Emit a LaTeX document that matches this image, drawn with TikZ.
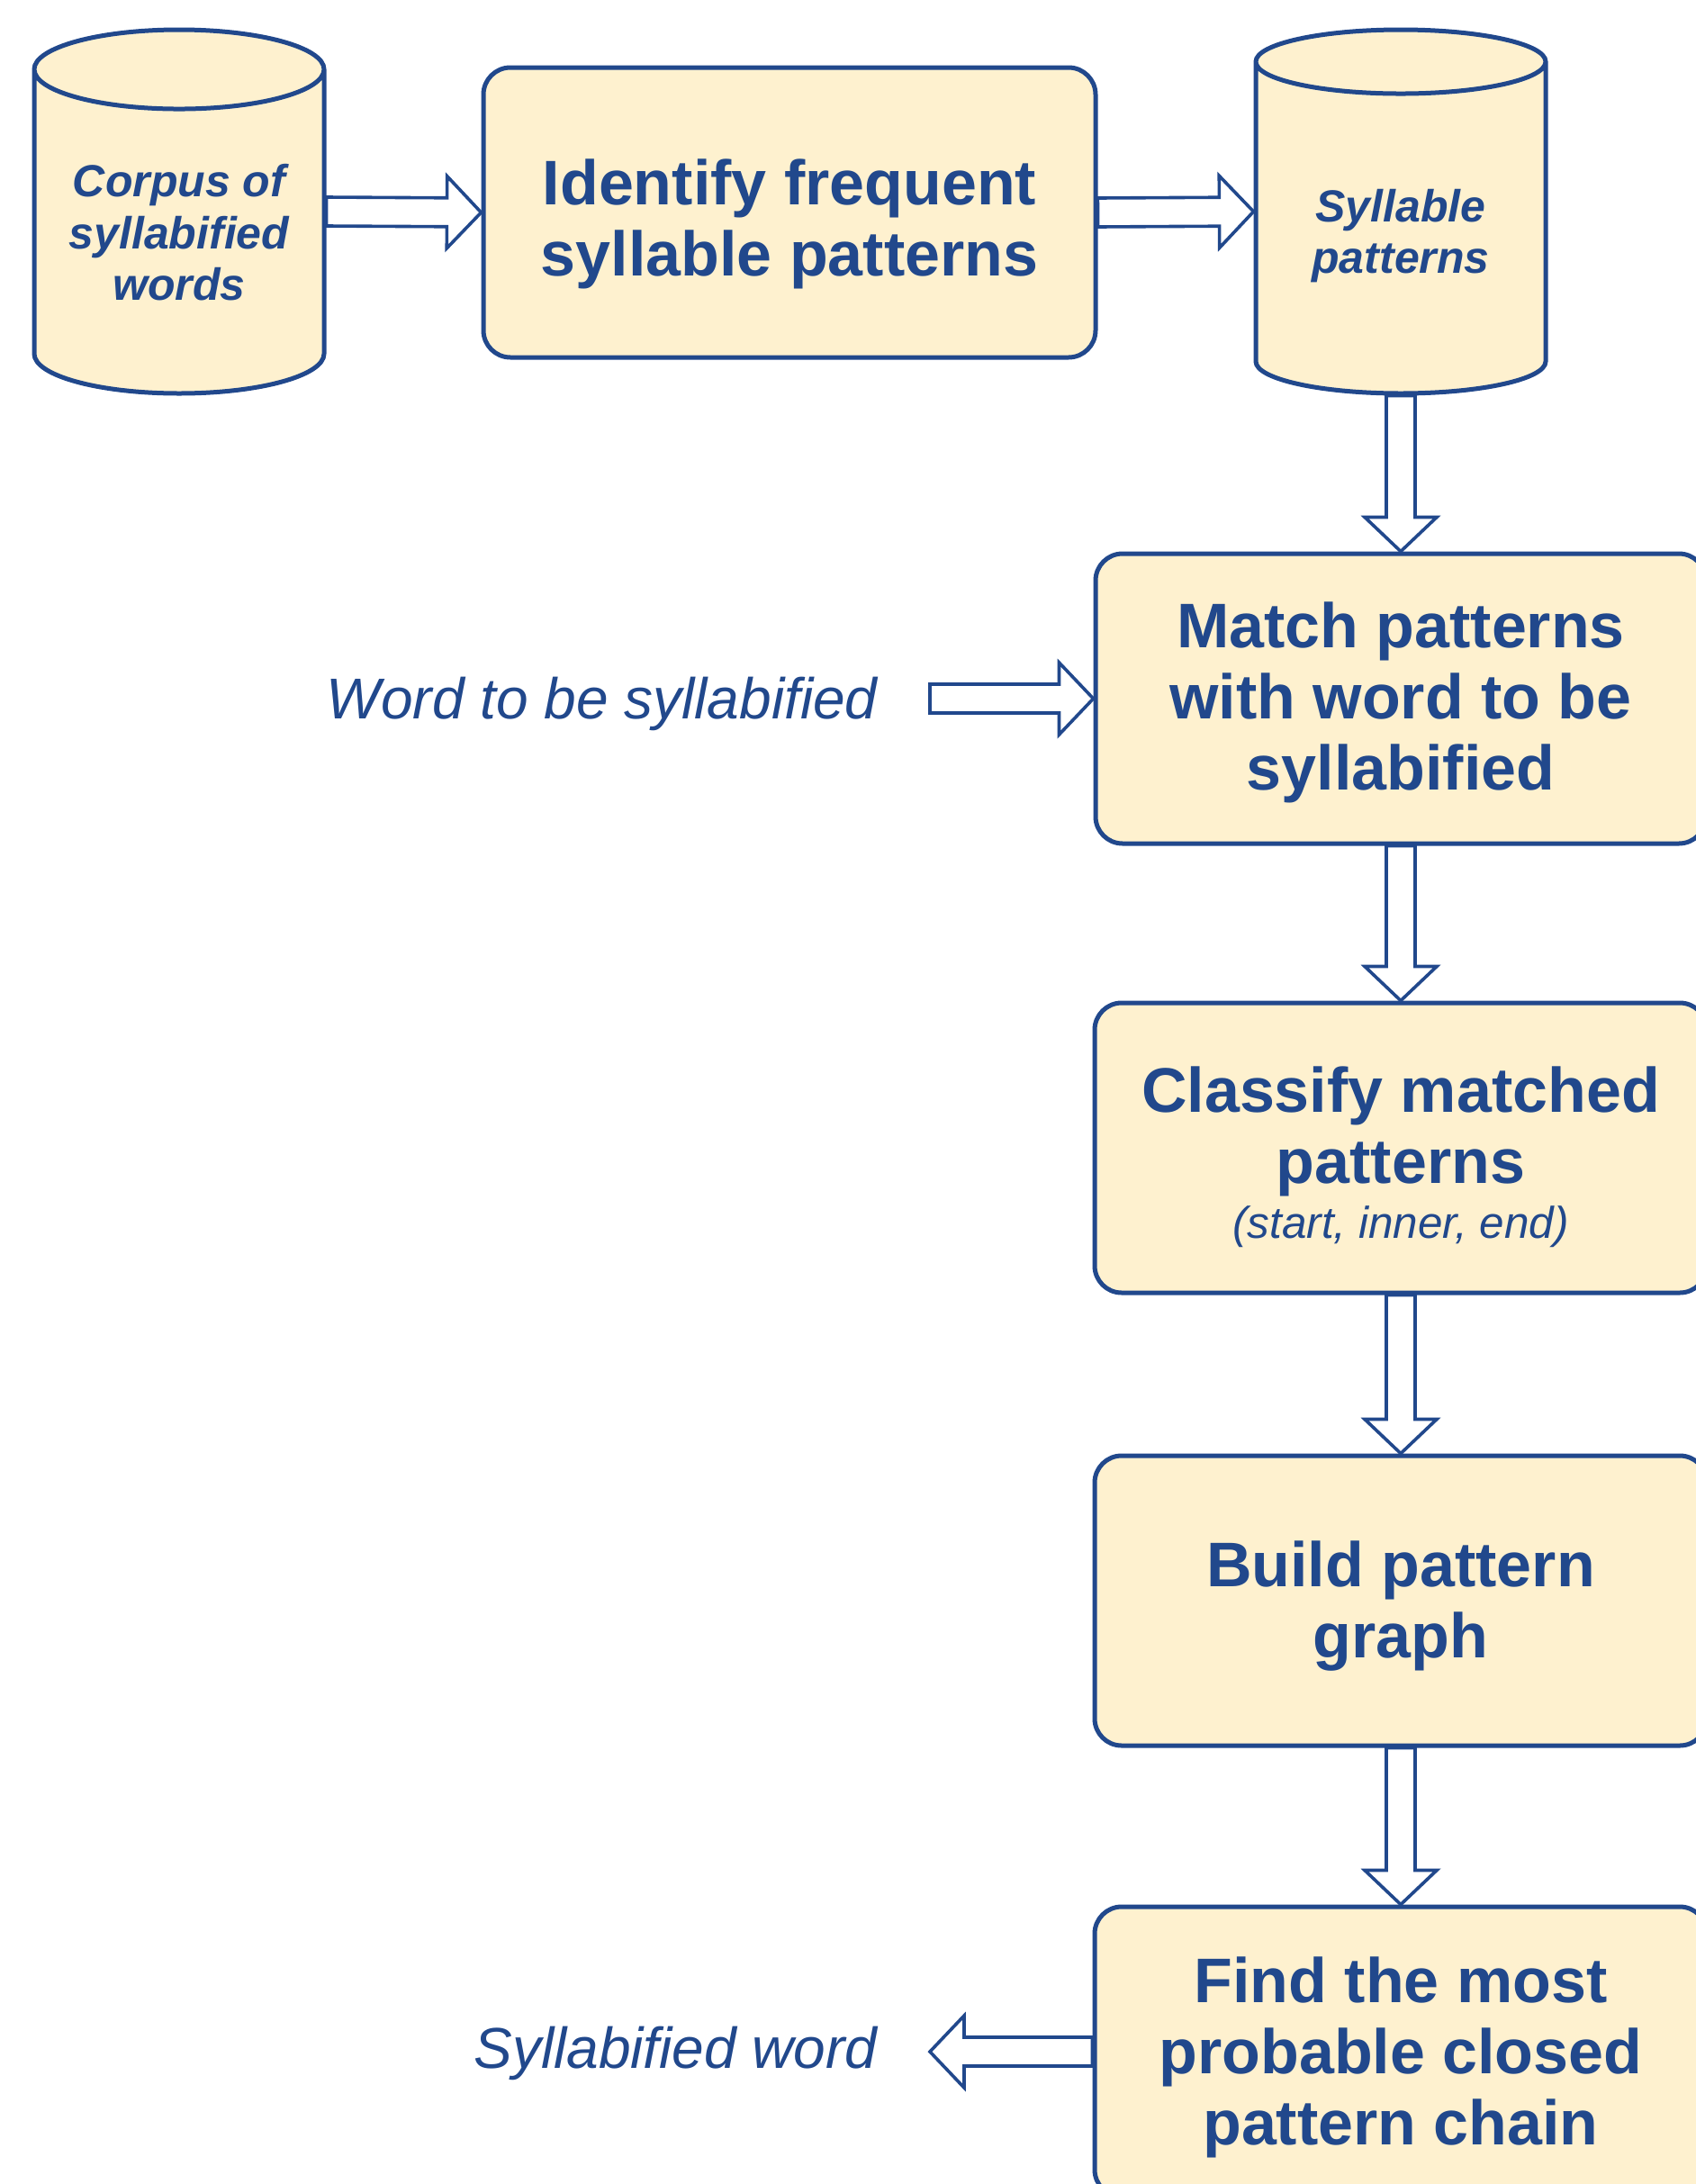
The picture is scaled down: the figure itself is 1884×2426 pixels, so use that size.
\documentclass[tikz,border=0pt]{standalone}
\usepackage{fontspec}
\setmainfont{Liberation Sans}
\usetikzlibrary{shapes.geometric,calc}

\definecolor{flowblue}{RGB}{33,72,140}
\definecolor{flowcream}{RGB}{254,241,207}

\newcommand{\subfont}{\fontsize{24.7}{33}\selectfont\mdseries\itshape}
\newcommand{\dropstrut}[1]{\rule{0pt}{#1}}
% hollow block arrow from #1 to #2
\newcommand{\hollowarrow}[2]{%
  \draw[arrowline] let \p1=(#1), \p2=(#2),
      \n1={atan2(\y2-\y1,\x2-\x1)}, \n2={veclen(\x2-\x1,\y2-\y1)} in
    ([shift={(\p1)},rotate=\n1]0pt,8pt) -- ([shift={(\p1)},rotate=\n1]\n2-19pt,8pt)
    -- ([shift={(\p1)},rotate=\n1]\n2-19pt,20pt) -- ([shift={(\p1)},rotate=\n1]\n2,0pt)
    -- ([shift={(\p1)},rotate=\n1]\n2-19pt,-20pt) -- ([shift={(\p1)},rotate=\n1]\n2-19pt,-8pt)
    -- ([shift={(\p1)},rotate=\n1]0pt,-8pt) -- cycle;}

\begin{document}
\begin{tikzpicture}[x=0.5pt,y=-0.5pt,
    stepbox/.style={draw=flowblue, fill=flowcream, line width=2.5pt, rounded corners=15pt,
      minimum width=340pt, minimum height=161pt, inner sep=0pt, align=center,
      text=flowblue, font=\fontsize{35}{39.5}\selectfont\bfseries},
    store/.style={cylinder, shape border rotate=90, aspect=0.36, draw=flowblue, fill=flowcream,
      line width=2.5pt, minimum width=161pt, minimum height=202pt, inner sep=0pt, align=center,
      text=flowblue, font=\fontsize{25}{28.6}\selectfont\bfseries\itshape, anchor=shape center},
    iolabel/.style={inner sep=0pt, anchor=base east, text=flowblue, font=\fontsize{32}{38}\selectfont\itshape},
    arrowline/.style={draw=flowblue, fill=white, line width=1.8pt, line join=miter}]
  \clip (0,0) rectangle (1884,2426);
  \fill[white] (0,0) rectangle (1884,2426);

  % data stores
  \node[store] (corpus) at (199,235) {Corpus of\\syllabified\\words};
  \node[store] (patterns) at (1556,235) {\dropstrut{26.2pt}Syllable\\patterns};

  % processing steps
  \node[stepbox] (identify) at (877,236) {\dropstrut{38pt}Identify frequent\\syllable patterns};
  \node[stepbox, minimum width=339pt] (match) at (1556,776) {\dropstrut{30.1pt}Match patterns\\with word to be\\syllabified};
  \node[stepbox] (classify) at (1556,1275) {\dropstrut{35.5pt}Classify matched\\patterns\\[-9pt]{\subfont(start, inner, end)}};
  \node[stepbox] (build) at (1556,1778) {\dropstrut{31.7pt}Build pattern\\graph};
  \node[stepbox] (find) at (1556,2279) {\dropstrut{31.7pt}Find the most\\probable closed\\pattern chain};

  % input and output
  \node[iolabel] (wordin) at (975,798) {Word to be syllabified};
  \node[iolabel] (wordout) at (975,2297) {Syllabified word};
  \coordinate (wordintail) at ($(wordin.east |- match.west)+(58,0)$);
  \coordinate (wordouttip) at ($(wordout.east |- find.west)+(58,0)$);

  % arrows
  \hollowarrow{corpus.east |- corpus.shape center}{identify.west}
  \hollowarrow{identify.east}{patterns.west |- patterns.shape center}
  \hollowarrow{patterns.south}{match.north}
  \hollowarrow{wordintail}{match.west}
  \hollowarrow{match.south}{classify.north}
  \hollowarrow{classify.south}{build.north}
  \hollowarrow{build.south}{find.north}
  \hollowarrow{find.west}{wordouttip}
\end{tikzpicture}
\end{document}
